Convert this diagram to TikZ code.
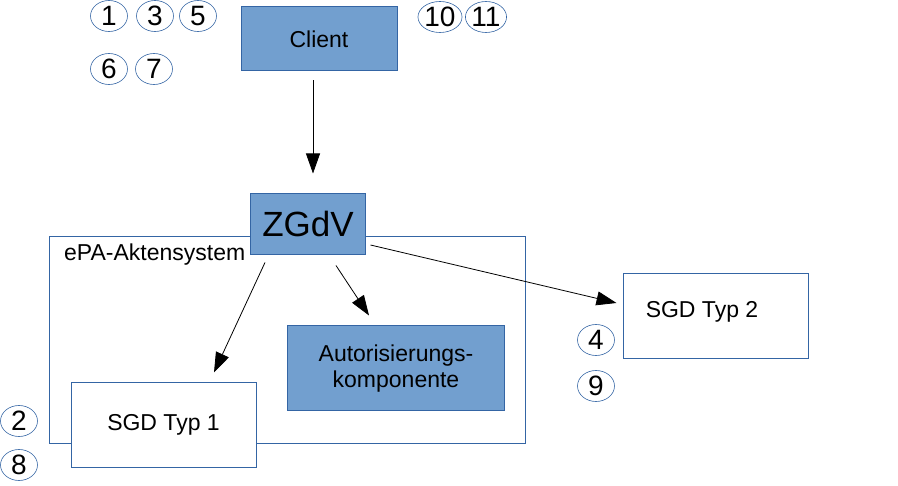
\documentclass[tikz,border=0pt]{standalone}
\usepackage{fontspec}
\setmainfont{Liberation Sans}
\usetikzlibrary{arrows.meta,shapes.geometric}
\definecolor{boxfill}{HTML}{729FCF}
\definecolor{boxline}{HTML}{3465A4}
\begin{document}
\begin{tikzpicture}[x=1pt,y=-1pt,
  bluebox/.style={draw=boxline,fill=boxfill,line width=1pt,inner sep=0pt,font=\fontsize{23}{26}\selectfont,align=center},
  whitebox/.style={draw=boxline,fill=white,line width=1pt,inner sep=0pt,font=\fontsize{23}{26}\selectfont},
  frame/.style={draw=boxline,line width=0.8pt,inner sep=0pt},
  num/.style={ellipse,draw=boxline,line width=0.6pt,minimum width=37pt,minimum height=31pt,inner sep=0pt,font=\fontsize{28}{28}\selectfont},
  arr/.style={-{Triangle[length=20pt,width=14pt]},line width=0.8pt,black},
  lbl/.style={inner sep=0pt,font=\fontsize{23}{26}\selectfont}]
\useasboundingbox (0,0) rectangle (898,486);
% container
\node[frame,minimum width=476pt,minimum height=207pt] (container) at (287,339.5) {};
\node[lbl,anchor=west] (contlabel) at (64,255) {ePA-Aktensystem};
% boxes
\node[bluebox,minimum width=156pt,minimum height=64pt] (client) at (319,39) {Client};
\node[bluebox,minimum width=115pt,minimum height=61pt,font=\fontsize{35}{38}\selectfont] (zgdv) at (308,224) {ZGdV};
\node[whitebox,minimum width=185pt,minimum height=85pt] (sgd1) at (163.5,425) {SGD Typ 1};
\node[bluebox,minimum width=217pt,minimum height=85pt] (auth) at (396,368.5) {Autorisierungs-\\komponente};
\node[whitebox,minimum width=185pt,minimum height=85pt] (sgd2) at (716,316) {};
\node[lbl] (sgd2t) at (702,312) {SGD Typ 2};
% numbers
\node[num] (n1) at (109,16) {1};
\node[num] (n3) at (155,16) {3};
\node[num] (n5) at (198,16) {5};
\node[num] (n6) at (109,69) {6};
\node[num] (n7) at (154,69) {7};
\node[num] (n10) at (440,17) {10};
\node[num] (n11) at (486,17) {11};
\node[num] (n2) at (19,421) {2};
\node[num] (n8) at (19,465) {8};
\node[num] (n4) at (596,340) {4};
\node[num] (n9) at (596,386) {9};
% arrows
\draw[arr] ([xshift=-6pt,yshift=-9pt]client.south) -- ([xshift=5pt,yshift=19.5pt]zgdv.north);
\draw[arr] ([xshift=-43pt,yshift=-7.5pt]zgdv.south) -- ([xshift=50.5pt,yshift=9.5pt]sgd1.north);
\draw[arr] ([xshift=28pt,yshift=-10.5pt]zgdv.south) -- ([xshift=-27pt,yshift=10pt]auth.north);
\draw[arr] ([xshift=4.5pt,yshift=-21pt]zgdv.east) -- ([xshift=-6.5pt,yshift=13pt]sgd2.west);
\end{tikzpicture}
\end{document}
